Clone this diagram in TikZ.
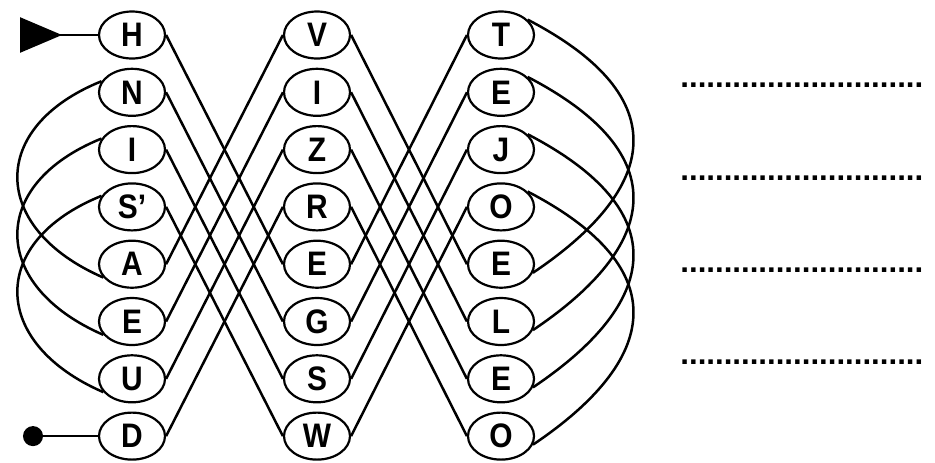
\documentclass[tikz,border=0pt]{standalone}
\usepackage{fontspec}
\setmainfont{Liberation Sans}
\newfontfamily\letterfont[FakeStretch=0.88]{Liberation Sans}
\usepackage{tikz}
\usetikzlibrary{shapes, arrows.meta, positioning, shapes.geometric, calc}

\begin{document}
\begin{tikzpicture}[x=0.5pt, y=-0.5pt]
  \tikzstyle{letter} = [draw, ellipse, line width=1.1pt, minimum width=33pt, minimum height=23.5pt, inner sep=0pt, font=\letterfont\fontsize{17}{17}\selectfont\bfseries]
  \tikzstyle{wire} = [line width=1.25pt]
  \tikzstyle{blank} = [anchor=base west, inner sep=0pt, font=\fontsize{15.6}{16}\selectfont\bfseries]
  \useasboundingbox (0,0) rectangle (935,462);

  \node[letter] (lh) at (132, 35) {H};
  \node[letter] (ln) at (132, 92.3) {N};
  \node[letter] (li) at (132, 149.6) {I};
  \node[letter] (ls) at (132, 206.9) {S’};
  \node[letter] (la) at (132, 264.2) {A};
  \node[letter] (le) at (132, 321.5) {E};
  \node[letter] (lu) at (132, 378.8) {U};
  \node[letter] (ld) at (132, 436.1) {D};

  \node[letter] (mv) at (317, 35) {V};
  \node[letter] (mi) at (317, 92.3) {I};
  \node[letter] (mz) at (317, 149.6) {Z};
  \node[letter] (mr) at (317, 206.9) {R};
  \node[letter] (me) at (317, 264.2) {E};
  \node[letter] (mg) at (317, 321.5) {G};
  \node[letter] (ms) at (317, 378.8) {S};
  \node[letter] (mw) at (317, 436.1) {W};

  \node[letter] (rt) at (501, 35) {T};
  \node[letter] (re) at (501, 92.3) {E};
  \node[letter] (rj) at (501, 149.6) {J};
  \node[letter] (ro) at (501, 206.9) {O};
  \node[letter] (re2) at (501, 264.2) {E};
  \node[letter] (rl) at (501, 321.5) {L};
  \node[letter] (re3) at (501, 378.8) {E};
  \node[letter] (ro2) at (501, 436.1) {O};

  \coordinate (start) at (20, 35);
  \coordinate (stop) at (23, 436.1);
  \draw[wire, {Triangle[reversed, length=21pt, width=17.5pt]}-] (start) -- (lh.west);
  \draw[wire, {Circle[length=10pt]}-] (stop) -- (ld.west);

  \draw[wire] (lh.east) -- (me.west);
  \draw[wire] (ln.east) -- (mg.west);
  \draw[wire] (li.east) -- (ms.west);
  \draw[wire] (ls.east) -- (mw.west);
  \draw[wire] (la.east) -- (mv.west);
  \draw[wire] (le.east) -- (mi.west);
  \draw[wire] (lu.east) -- (mz.west);
  \draw[wire] (ld.east) -- (mr.west);

  \draw[wire] (mv.east) -- (re2.west);
  \draw[wire] (mi.east) -- (rl.west);
  \draw[wire] (mz.east) -- (re3.west);
  \draw[wire] (mr.east) -- (ro2.west);
  \draw[wire] (me.east) -- (rt.west);
  \draw[wire] (mg.east) -- (re.west);
  \draw[wire] (ms.east) -- (rj.west);
  \draw[wire] (mw.east) -- (ro.west);

  \draw[wire] (ln.160) .. controls +(-114,46) and +(-113,-49) .. (la.205);
  \draw[wire] (li.160) .. controls +(-114,46) and +(-113,-49) .. (le.205);
  \draw[wire] (ls.160) .. controls +(-114,46) and +(-113,-49) .. (lu.205);

  \draw[wire] (rt.30) .. controls +(150,78) and +(125,-84) .. (re2.-15);
  \draw[wire] (re.30) .. controls +(150,78) and +(125,-84) .. (rl.-15);
  \draw[wire] (rj.30) .. controls +(150,78) and +(125,-84) .. (re3.-15);
  \draw[wire] (ro.30) .. controls +(150,78) and +(125,-84) .. (ro2.-15);

  \node[blank] (ans1) at (680, 87) {............................};
  \node[blank] (ans2) at (680, 180) {............................};
  \node[blank] (ans3) at (680, 272) {............................};
  \node[blank] (ans4) at (680, 364) {............................};
\end{tikzpicture}
\end{document}
